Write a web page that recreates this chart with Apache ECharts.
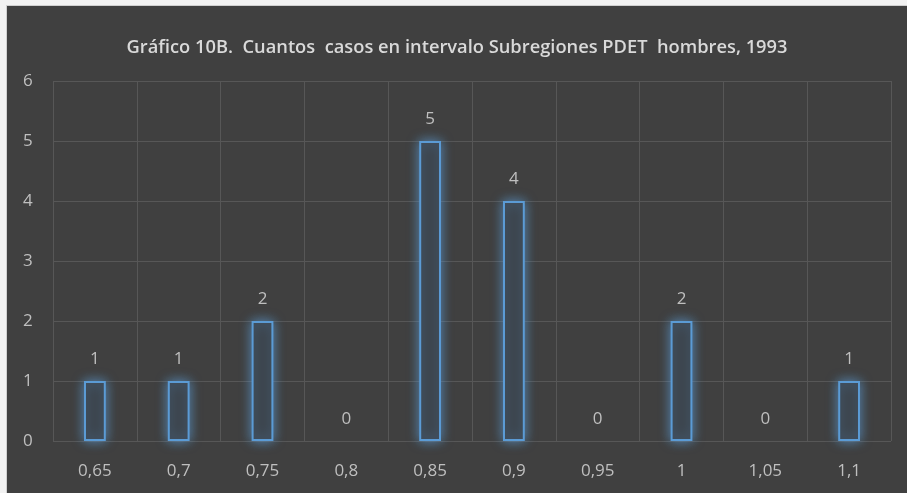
<!DOCTYPE html>
<html>
<head>
<meta charset="utf-8">
<script src="https://cdn.jsdelivr.net/npm/echarts@6/dist/echarts.min.js"></script>
<style>
html,body{margin:0;padding:0;background:#f2f2f2;}
#wrap{position:absolute;left:6px;top:5px;width:901px;height:488px;background:#404040;border-left:1px solid #d0d0d0;border-top:1px solid #d0d0d0;box-sizing:border-box;}
#chart{width:100%;height:100%;}
</style>
</head>
<body>
<div id="wrap"><div id="chart"></div></div>
<script>
const titleText = 'Gráfico 10B.  Cuantos  casos en intervalo Subregiones PDET  hombres, 1993';
const categories = ['0,65', '0,7', '0,75', '0,8', '0,85', '0,9', '0,95', '1', '1,05', '1,1'];
const counts = [1, 1, 2, 0, 5, 4, 0, 2, 0, 1];
const yTicks = { min: 0, max: 6, interval: 1 };

const chart = echarts.init(document.getElementById('chart'), null, { renderer: 'canvas' });
const textColor = '#bfbfbf';
const barData = counts.map(v => v === 0
  ? { value: v, itemStyle: { color: 'transparent', borderWidth: 0, shadowBlur: 0 } }
  : { value: v });
chart.setOption({
  backgroundColor: 'transparent',
  animation: false,
  title: {
    text: titleText,
    left: 'center',
    top: 28,
    textStyle: { color: '#d9d9d9', fontFamily: 'Open Sans', fontWeight: 600, fontSize: 18.3 }
  },
  grid: { left: 46, right: 16, top: 75, bottom: 52, containLabel: false },
  xAxis: {
    type: 'category',
    data: categories,
    axisLine: { show: false },
    axisTick: { show: false },
    axisLabel: { color: textColor, fontFamily: 'Open Sans', fontSize: 17, margin: 22 },
    splitLine: { show: true, lineStyle: { color: '#575757', width: 1 } }
  },
  yAxis: {
    type: 'value',
    min: yTicks.min, max: yTicks.max, interval: yTicks.interval,
    axisLine: { show: false },
    axisTick: { show: false },
    axisLabel: { color: textColor, fontFamily: 'Open Sans', fontSize: 17, align: 'left', margin: 30 },
    splitLine: { show: true, lineStyle: { color: '#575757', width: 1 } }
  },
  series: [{
    type: 'bar',
    data: barData,
    barWidth: '26%',
    itemStyle: {
      color: '#3c4249',
      borderColor: '#5b9bd5',
      borderWidth: 2,
      shadowColor: 'rgba(91,155,213,0.8)',
      shadowBlur: 12
    },
    label: {
      show: true,
      position: 'top',
      distance: 13,
      color: textColor,
      fontFamily: 'Open Sans',
      fontSize: 17
    }
  }]
});
</script>
</body>
</html>
